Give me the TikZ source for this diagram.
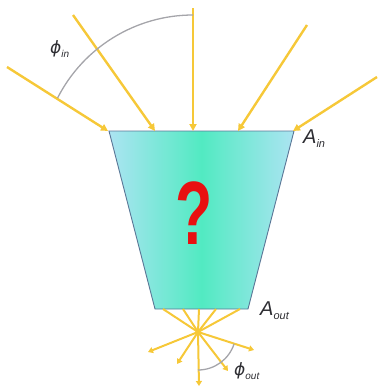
\documentclass[tikz,border=0pt]{standalone}
\usepackage{fontspec}
\setmainfont{Liberation Sans}
\newfontfamily\phifont{DejaVu Sans}
\usetikzlibrary{arrows.meta}
\definecolor{ray}{RGB}{246,200,56}
\definecolor{arcgray}{RGB}{165,165,170}
\definecolor{edgeblue}{RGB}{90,118,150}
\definecolor{sidecol}{RGB}{172,228,242}
\definecolor{midcol}{RGB}{82,234,194}
\definecolor{qred}{RGB}{232,16,16}
\definecolor{txt}{RGB}{45,45,50}
\tikzset{
  inray/.style={ray, line width=2.4pt, -{Triangle[length=7pt,width=7pt]}},
  outray/.style={ray, line width=2pt, -{Triangle[length=5pt,width=6pt]}},
  fanline/.style={ray, line width=2pt},
  anglearc/.style={arcgray, line width=1.3pt},
  lbl/.style={text=txt, inner sep=0pt, font=\itshape},
}
\begin{document}
\begin{tikzpicture}[x=1pt,y=-1pt]
\useasboundingbox (0,0) rectangle (379,391);
% trapezoid
\coordinate (TL) at (109,131);
\coordinate (TR) at (294,131);
\coordinate (BR) at (248,309);
\coordinate (BL) at (155,309);
\shade[left color=sidecol, right color=sidecol, middle color=midcol] (TL) -- (TR) -- (BR) -- (BL) -- cycle;
\draw[edgeblue, line width=0.9pt] (TL) -- (TR) -- (BR) -- (BL) -- cycle;
% question mark
\node (q) at (194,213) {\scalebox{1.05}[1.55]{\fontsize{58}{58}\selectfont\bfseries\color{qred}?}};
% incoming rays
\coordinate (s1) at (7,67);   \coordinate (e1) at (108,131);
\coordinate (s2) at (73,15);  \coordinate (e2) at (155,131);
\coordinate (s3) at (193,8);  \coordinate (e3) at (193,131);
\coordinate (s4) at (307,25); \coordinate (e4) at (238,131);
\coordinate (s5) at (377,77); \coordinate (e5) at (293,131);
\foreach \i in {1,...,5} \draw[inray] (s\i) -- (e\i);
% phi_in arc
\coordinate (ta) at (193,15);
\draw[anglearc] (ta) arc[start angle=270, end angle=207, radius=152];
% outgoing fan
\coordinate (F) at (198,332);
\coordinate (b1) at (163,309);
\coordinate (b2) at (183,309);
\coordinate (b3) at (199,309);
\coordinate (b4) at (216,309);
\coordinate (b5) at (240,309);
\foreach \i in {1,...,5} \draw[fanline] (b\i) -- (F);
\coordinate (o1) at (148,352);
\coordinate (o2) at (177,364);
\coordinate (o3) at (199,386);
\coordinate (o4) at (228,371);
\coordinate (o5) at (254,350);
\foreach \i in {1,...,5} \draw[outray] (F) -- (o\i);
\fill[ray] (F) circle (2.8);
% phi_out arc
\coordinate (oa) at (198,370);
\draw[anglearc] (oa) arc[start angle=90, end angle=18, radius=38];
% labels
\node[lbl, anchor=base west] (ain) at (303,143) {\fontsize{20}{20}\selectfont A\raisebox{-4pt}{\fontsize{11}{11}\selectfont in}};
\node[lbl, anchor=base west] (aout) at (260,315) {\fontsize{20}{20}\selectfont A\raisebox{-4pt}{\fontsize{11}{11}\selectfont out}};
\node[lbl, anchor=base west] (phin) at (50,53) {{\phifont\itshape\fontsize{17}{17}\selectfont ϕ}\raisebox{-4pt}{\fontsize{10}{10}\selectfont in}};
\node[lbl, anchor=base west] (phout) at (234,375) {{\phifont\itshape\fontsize{17}{17}\selectfont ϕ}\raisebox{-4pt}{\fontsize{10}{10}\selectfont out}};
\end{tikzpicture}
\end{document}
